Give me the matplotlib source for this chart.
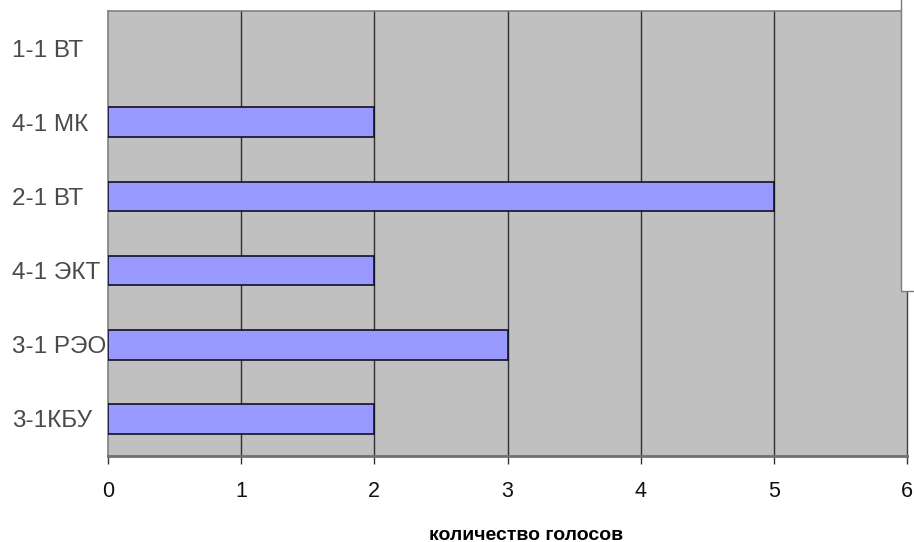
import matplotlib
matplotlib.use("Agg")
import matplotlib.pyplot as plt
from matplotlib.patches import Rectangle

categories = ["1-1 ВТ", "4-1 МК", "2-1 ВТ", "4-1 ЭКТ", "3-1 РЭО", "3-1КБУ"]
votes = [0, 2, 5, 2, 3, 2]
x_ticks = [0, 1, 2, 3, 4, 5, 6]
x_label = "количество голосов"

W, H = 914, 542
fig = plt.figure(figsize=(W / 100, H / 100), dpi=100)
fig.patch.set_facecolor("white")
ax = fig.add_axes([108 / W, 1 - 456 / H, (907 - 108) / W, (456 - 11) / H])
ax.set_facecolor("#C0C0C0")

ypos = list(range(len(categories)))
widths = [1.2 if v > 0 else 0 for v in votes]
ax.barh(ypos, votes, height=0.40, color="#9999FF", edgecolor="#111122",
        linewidth=widths, zorder=3)
ax.set_ylim(len(categories) - 0.5, -0.5)
ax.set_xlim(0, 6)

for v in x_ticks[1:-1]:
    ax.axvline(v, color="#303030", linewidth=1.0, zorder=1)

ax.set_yticks(ypos)
ax.set_yticklabels(categories, fontsize=17.5, color="#4a4a4a",
                   family=["Liberation Sans", "DejaVu Sans"])
for lbl in ax.get_yticklabels():
    lbl.set_horizontalalignment("left")
ax.tick_params(axis="y", length=0, pad=69)

ax.set_xticks(x_ticks)
ax.set_xticklabels([str(t) for t in x_ticks], fontsize=15.5, color="#111111",
                   family=["Liberation Sans Narrow", "Liberation Sans", "DejaVu Sans"])
ax.tick_params(axis="x", length=6, width=1, color="#333333", pad=12)

for side in ["left", "top"]:
    ax.spines[side].set_color("#808080")
    ax.spines[side].set_linewidth(1.2)
ax.spines["bottom"].set_color("#707070")
ax.spines["bottom"].set_linewidth(2.0)
ax.spines["right"].set_color("#404040")
ax.spines["right"].set_linewidth(1.0)

fig.text(526 / W, 1 - 535 / H, x_label, ha="center", va="center",
         fontsize=14, fontweight="bold",
         family=["Liberation Sans Narrow", "Liberation Sans", "DejaVu Sans"])

# partially visible legend box at top right
fig.patches.append(Rectangle((901 / W, 1 - 291 / H), 0.1, 300 / H,
                             transform=fig.transFigure, facecolor="white",
                             edgecolor="#7a7a7a", linewidth=1.0, zorder=11))

fig.savefig("out.png", dpi=100)
